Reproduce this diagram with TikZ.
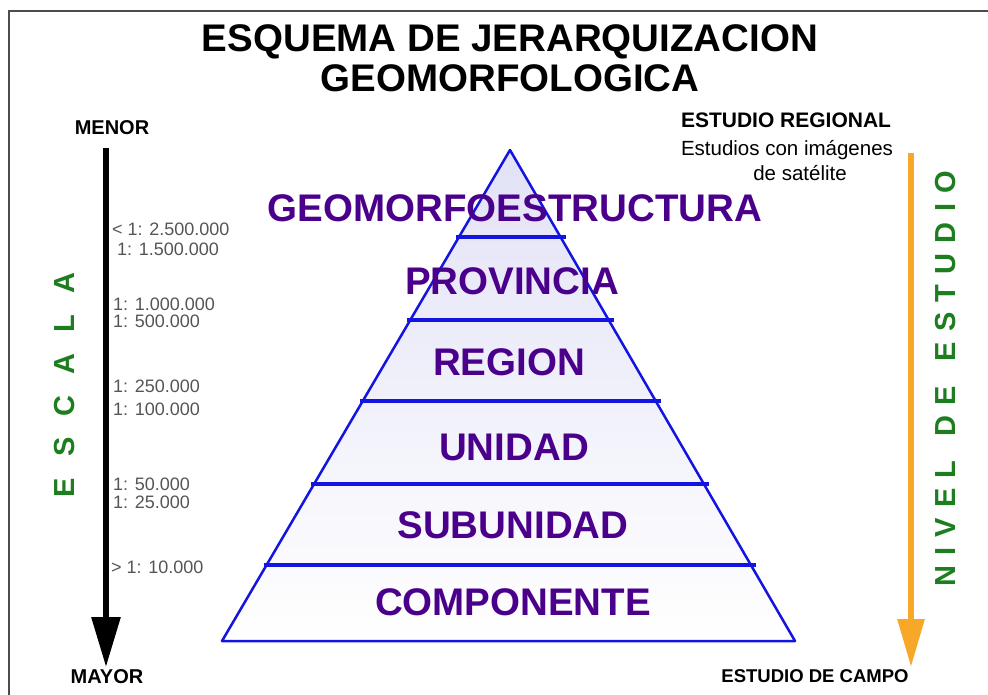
\documentclass[tikz,border=0pt]{standalone}
\usepackage{fontspec}
\setmainfont{Liberation Sans}
\usetikzlibrary{arrows.meta,calc}
\definecolor{pblue}{RGB}{20,20,225}
\definecolor{ppurple}{RGB}{75,0,140}
\definecolor{sgreen}{RGB}{30,125,30}
\definecolor{sorange}{RGB}{247,168,40}
\definecolor{sgray}{RGB}{85,85,85}
\definecolor{plav}{RGB}{226,226,246}
\newcommand{\ga}{\hspace{21pt}}
\newcommand{\gb}{\hspace{10.2pt}}
\newcommand{\gw}{\hspace{24.5pt}}
\begin{document}
\begin{tikzpicture}[x=1pt,y=-1pt,
  titlestyle/.style={font=\fontsize{38.5}{40}\selectfont\bfseries, anchor=base, inner sep=0pt},
  lvl/.style={font=\fontsize{38.5}{40}\selectfont\bfseries, text=ppurple, anchor=base, inner sep=0pt},
  scl/.style={font=\fontsize{18}{20}\selectfont, text=sgray, anchor=base west, inner sep=0pt},
  blab/.style={font=\fontsize{20}{22}\selectfont\bfseries, anchor=base, inner sep=0pt},
  rlab/.style={font=\fontsize{20.5}{22}\selectfont, anchor=base, inner sep=0pt},
  vtext/.style={font=\fontsize{29}{30}\selectfont\bfseries, text=sgreen, rotate=90, inner sep=0pt},
  pyr/.style={draw=pblue, line width=2.5pt, line join=round},
  divline/.style={draw=pblue, line width=3.5pt}
]
\useasboundingbox (0,0) rectangle (988,695);
\draw[black!70, line width=1.5pt] (9,11) rectangle (1010,720);

% title
\node[titlestyle] (t1) at (510,52) {ESQUEMA DE JERARQUIZACION};
\node[titlestyle] (t2) at (510,92) {GEOMORFOLOGICA};

% pyramid
\coordinate (apex) at (510,150);
\coordinate (bl) at (222,641);
\coordinate (br) at (795,641);
\shade[top color=plav, bottom color=white] (apex) -- (bl) -- (br) -- cycle;
\foreach \t in {0.1772,0.3462,0.5112,0.6802,0.8452}
  \draw[divline] ($(apex)!\t!(bl)+(-3,0)$) -- ($(apex)!\t!(br)+(5,0)$);
\draw[pyr] (apex) -- (bl) -- (br) -- cycle;

\node[lvl] (geo) at (515,222) {GEOMORFOESTRUCTURA};
\node[lvl] (prov) at (512,294) {PROVINCIA};
\node[lvl] (reg) at (509,375) {REGION};
\node[lvl] (uni) at (514,460) {UNIDAD};
\node[lvl] (sub) at (513,538) {SUBUNIDAD};
\node[lvl] (comp) at (513,615) {COMPONENTE};

% left scale arrow
\node[blab] (menor) at (112,135) {MENOR};
\node[blab] (mayor) at (107,683) {MAYOR};
\coordinate (ltop) at (106,148);
\coordinate (lbot) at (106,667);
\draw[line width=6pt, -{Triangle[length=50pt,width=28pt]}] (ltop) -- (lbot);

\node[scl] (s1) at (112,236) {< 1: 2.500.000};
\node[scl] (s2) at (117,255) {1: 1.500.000};
\node[scl] (s3) at (113,310) {1: 1.000.000};
\node[scl] (s4) at (113,327) {1: 500.000};
\node[scl] (s5) at (113,392) {1: 250.000};
\node[scl] (s6) at (113,415) {1: 100.000};
\node[scl] (s7) at (113,490) {1: 50.000};
\node[scl] (s8) at (113,508) {1: 25.000};
\node[scl] (s9) at (111,573) {> 1: 10.000};

\node[vtext] (escala) at (65,385) {E\ga S\ga C\ga A\ga L\ga A};

% right side
\node[font=\fontsize{21}{22}\selectfont\bfseries, anchor=base, inner sep=0pt] (reg1) at (786,128) {ESTUDIO REGIONAL};
\node[rlab] (reg2) at (787,156) {Estudios con imágenes};
\node[rlab] (reg3) at (800,181) {de satélite};
\node[font=\fontsize{18.5}{20}\selectfont\bfseries, anchor=base, inner sep=0pt] (campo) at (815,682) {ESTUDIO DE CAMPO};
\coordinate (otop) at (911,153);
\coordinate (obot) at (911,667);
\draw[sorange, line width=6pt, -{Triangle[length=48pt,width=26pt]}] (otop) -- (obot);

\node[vtext] (nivel) at (946,379) {N\gb I\gb V\gb E\gb L\gw D\gb E\gw E\gb S\gb T\gb U\gb D\gb I\gb O};
\end{tikzpicture}
\end{document}
